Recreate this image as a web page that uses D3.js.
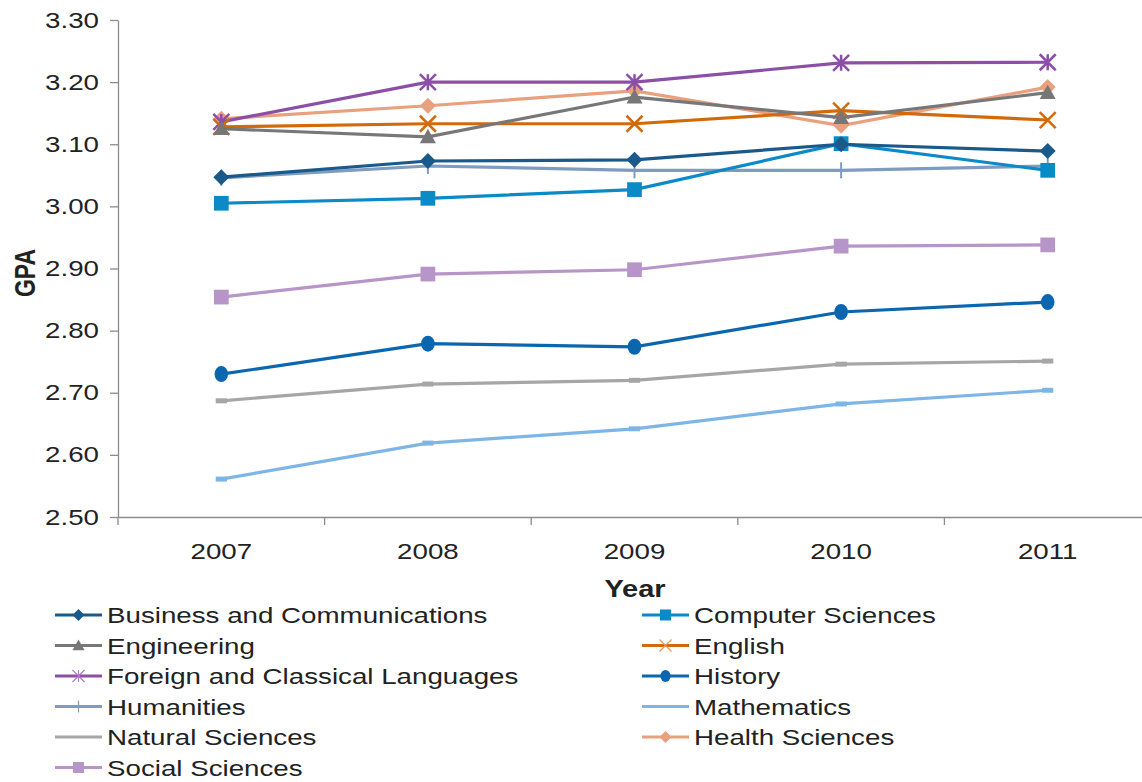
<!DOCTYPE html>
<html>
<head>
<meta charset="utf-8">
<script src="https://cdn.jsdelivr.net/npm/d3@7"></script>
<style>
  body { margin: 0; background: #fff; }
  text { font-family: "Liberation Sans", Arial, sans-serif; fill: #222; }
</style>
</head>
<body>
<svg id="chart" width="1142" height="782"></svg>
<script>
/*global d3*/
// chart data
var years = ["2007", "2008", "2009", "2010", "2011"];
var yTicks = [2.5, 2.6, 2.7, 2.8, 2.9, 3.0, 3.1, 3.2, 3.3];

var businessGpa = [3.047, 3.073, 3.075, 3.100, 3.089];
var computerGpa = [3.005, 3.013, 3.027, 3.101, 3.058];
var engineeringGpa = [3.125, 3.112, 3.176, 3.143, 3.183];
var englishGpa = [3.128, 3.133, 3.133, 3.154, 3.139];
var foreignGpa = [3.136, 3.200, 3.200, 3.231, 3.232];
var historyGpa = [2.730, 2.779, 2.774, 2.830, 2.846];
var humanitiesGpa = [3.046, 3.065, 3.058, 3.058, 3.065];
var mathematicsGpa = [2.561, 2.619, 2.642, 2.682, 2.704];
var naturalGpa = [2.687, 2.714, 2.720, 2.746, 2.751];
var healthGpa = [3.141, 3.162, 3.186, 3.130, 3.192];
var socialGpa = [2.854, 2.891, 2.898, 2.936, 2.938];

var series = [
    {name: "Business and Communications", values: businessGpa, color: "#1a5a8a", marker: "diamond"},
    {name: "Computer Sciences", values: computerGpa, color: "#0a8ac6", marker: "square"},
    {name: "Engineering", values: engineeringGpa, color: "#777777", marker: "triangle"},
    {name: "English", values: englishGpa, color: "#d26a0c", marker: "x"},
    {name: "Foreign and Classical Languages", values: foreignGpa, color: "#8c4fa8", marker: "star"},
    {name: "History", values: historyGpa, color: "#0b66b0", marker: "circle"},
    {name: "Humanities", values: humanitiesGpa, color: "#7f9cc0", marker: "plus"},
    {name: "Mathematics", values: mathematicsGpa, color: "#7db6e6", marker: "dash"},
    {name: "Natural Sciences", values: naturalGpa, color: "#a6a6a6", marker: "dash"},
    {name: "Health Sciences", values: healthGpa, color: "#e8a07e", marker: "diamond"},
    {name: "Social Sciences", values: socialGpa, color: "#b895c8", marker: "square"}
];

// the reference picture is stretched sideways, so text is widened to match
var stretch = 1.26;

var svg = d3.select("#chart"),
    plotLeft = 118,
    plotRight = 1151,
    plotTop = 20,
    plotBottom = 517;

var x = d3.scaleBand().domain(years).range([plotLeft, plotRight]);
var y = d3.scaleLinear().domain([2.5, 3.3]).range([plotBottom, plotTop]);

// axes
var yAxis = svg.append("g")
    .attr("transform", "translate(" + plotLeft + ",0)")
    .call(d3.axisLeft(y).tickValues(yTicks).tickFormat(d3.format(".2f")).tickSize(8).tickSizeOuter(0));
yAxis.select(".domain").attr("stroke", "#8c8c8c").attr("stroke-width", 1.3);
yAxis.selectAll(".tick line").attr("stroke", "#8c8c8c").attr("stroke-width", 1.3);
yAxis.selectAll(".tick text")
    .attr("font-size", 22)
    .attr("x", -19 / stretch)
    .attr("transform", "scale(" + stretch + ",1)")
    .attr("fill", "#222");

var xAxis = svg.append("g")
    .attr("transform", "translate(0," + plotBottom + ")")
    .call(d3.axisBottom(x).tickSize(0).tickSizeOuter(0));
xAxis.select(".domain").attr("stroke", "#8c8c8c").attr("stroke-width", 1.3);
xAxis.selectAll(".tick text")
    .attr("font-size", 22)
    .attr("dy", 0).attr("y", 42)
    .attr("transform", "scale(" + stretch + ",1)")
    .attr("fill", "#222");

// tick marks between categories
svg.append("g").selectAll("line")
    .data(years.map(function (d) { return x(d); }).concat([plotRight]))
    .join("line")
    .attr("x1", function (d) { return d; })
    .attr("x2", function (d) { return d; })
    .attr("y1", plotBottom)
    .attr("y2", plotBottom + 8)
    .attr("stroke", "#8c8c8c")
    .attr("stroke-width", 1.3);

svg.append("text")
    .attr("transform", "translate(635,597) scale(" + stretch + ",1)")
    .attr("text-anchor", "middle")
    .attr("font-size", 23).attr("font-weight", "bold")
    .text("Year");

svg.append("text")
    .attr("transform", "translate(35,273) scale(" + stretch + ",1) rotate(-90)")
    .attr("text-anchor", "middle")
    .attr("font-size", 23).attr("font-weight", "bold")
    .text("GPA");

function drawMarker(g, type, color, size) {
    var s = size;
    if (type === "diamond") {
        g.append("path").attr("d", "M0," + (-s) + "L" + s + ",0L0," + s + "L" + (-s) + ",0Z").attr("fill", color);
    } else if (type === "square") {
        g.append("rect").attr("x", -s * 0.92).attr("y", -s * 0.92).attr("width", s * 1.84).attr("height", s * 1.84).attr("fill", color);
    } else if (type === "triangle") {
        g.append("path").attr("d", "M0," + (-s) + "L" + s + "," + (s * 0.8) + "L" + (-s) + "," + (s * 0.8) + "Z").attr("fill", color);
    } else if (type === "circle") {
        g.append("ellipse").attr("rx", s * 0.85).attr("ry", s).attr("fill", color);
    } else if (type === "x") {
        g.append("path").attr("d", "M" + (-s) + "," + (-s) + "L" + s + "," + s + "M" + (-s) + "," + s + "L" + s + "," + (-s))
            .attr("stroke", color).attr("stroke-width", 2.5);
    } else if (type === "star") {
        g.append("path").attr("d", "M" + (-s) + "," + (-s) + "L" + s + "," + s + "M" + (-s) + "," + s + "L" + s + "," + (-s) + "M0," + (-s) + "L0," + s)
            .attr("stroke", color).attr("stroke-width", 2.5);
    } else if (type === "plus") {
        g.append("path").attr("d", "M0," + (-s) + "L0," + s)
            .attr("stroke", color).attr("stroke-width", 2);
    } else if (type === "dash") {
        g.append("path").attr("d", "M" + (-s * 0.7) + ",0L" + (s * 0.7) + ",0")
            .attr("stroke", color).attr("stroke-width", 5);
    }
}

var line = d3.line()
    .x(function (d, i) { return x(years[i]) + x.bandwidth() / 2; })
    .y(function (d) { return y(d); });

// draw in reverse so that the first series sits on top, as in the reference
series.slice().reverse().forEach(function (s) {
    var g = svg.append("g");
    g.append("path")
        .datum(s.values)
        .attr("d", line)
        .attr("fill", "none")
        .attr("stroke", s.color)
        .attr("stroke-width", 3.2);
    s.values.forEach(function (v, i) {
        var m = g.append("g")
            .attr("transform", "translate(" + (x(years[i]) + x.bandwidth() / 2) + "," + y(v) + ")");
        drawMarker(m, s.marker, s.color, 8);
    });
});

// legend in two columns
var legend = svg.append("g");
series.forEach(function (s, i) {
    var col = i % 2,
        row = Math.floor(i / 2),
        lx = col === 0 ? 55 : 642,
        ly = 615 + row * 30.5,
        g = legend.append("g").attr("transform", "translate(" + lx + "," + ly + ")");
    g.append("line")
        .attr("x1", 0).attr("x2", 47)
        .attr("y1", 0).attr("y2", 0)
        .attr("stroke", s.color).attr("stroke-width", 3.2);
    var m = g.append("g").attr("transform", "translate(23.5,0)");
    if (s.marker === "x" || s.marker === "star" || s.marker === "plus") {
        drawMarker(m, s.marker, s.marker === "x" ? "#e8955a" : s.marker === "star" ? "#b07ac8" : s.color, 6);
        m.selectAll("path").attr("stroke-width", 1.2);
    } else if (s.marker !== "dash") {
        drawMarker(m, s.marker, s.color, 6);
    }
    g.append("text")
        .attr("transform", "translate(52,8) scale(" + stretch + ",1)")
        .attr("font-size", 22)
        .text(s.name);
});
</script>
</body>
</html>
